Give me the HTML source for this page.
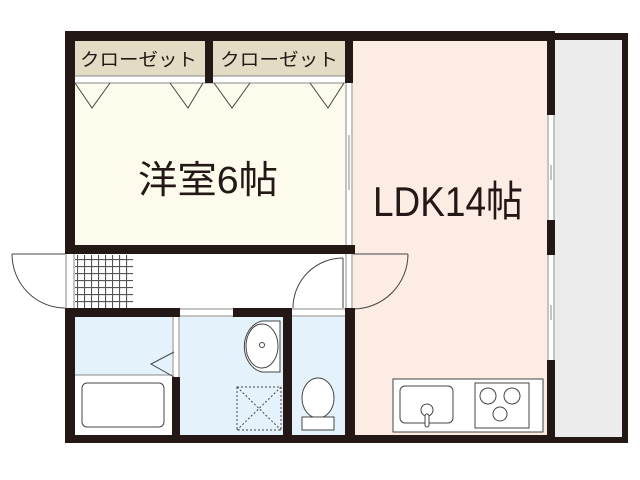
<!DOCTYPE html>
<html><head><meta charset="utf-8"><style>
html,body{margin:0;padding:0;background:#fff;}
svg{display:block;}
text{font-family:"Liberation Sans","Noto Sans CJK JP",sans-serif;fill:#231815;}
</style></head><body>
<svg width="640" height="480" viewBox="0 0 640 480" xmlns="http://www.w3.org/2000/svg">
<defs>
<pattern id="grid" width="7" height="7" patternUnits="userSpaceOnUse">
<rect width="7" height="7" fill="#fff"/>
<path d="M0 0.5H7M0.5 0V7" stroke="#555" stroke-width="1.2"/>
</pattern>
</defs>
<rect x="555" y="33" width="73" height="410" fill="#231815"/>
<rect x="555" y="40" width="67" height="397" fill="#ececec"/>
<rect x="65" y="31" width="490" height="10" fill="#231815"/>
<rect x="65" y="31" width="10" height="223" fill="#231815"/>
<rect x="65" y="308" width="10" height="135" fill="#231815"/>
<rect x="65" y="435" width="490" height="8" fill="#231815"/>
<rect x="547" y="31" width="8" height="412" fill="#231815"/>
<rect x="75" y="41" width="270" height="206" fill="#fdfbec"/>
<rect x="75" y="41" width="130" height="35" fill="#e3dcc4"/>
<rect x="213" y="41" width="132" height="35" fill="#e3dcc4"/>
<rect x="75" y="76" width="270" height="7" fill="#fff"/>
<line x1="75" y1="83" x2="345" y2="83" stroke="#888" stroke-width="1"/>
<line x1="75" y1="76" x2="345" y2="76" stroke="#888" stroke-width="1"/>
<rect x="353" y="41" width="194" height="394" fill="#fdece3"/>
<rect x="205" y="31" width="8" height="52" fill="#231815"/>
<rect x="345" y="31" width="8" height="52" fill="#231815"/>
<rect x="345" y="83" width="8" height="164" fill="#fff"/>
<path d="M346 83V247M352 83V247M349 135V190" stroke="#888" stroke-width="1"/>
<rect x="65" y="245" width="290" height="9" fill="#231815"/>
<g fill="none" stroke="#444" stroke-width="1">
<path d="M75 83L92 108L110 83M170 83L188 108L203 83M214 83L232 108L250 83M310 83L328 108L344 83"/>
</g>
<rect x="75" y="254" width="270" height="54" fill="#fff"/>
<rect x="65" y="254" width="10" height="54" fill="#fff"/>
<path d="M66 254V308M74 254V308" stroke="#888"/>
<rect x="75" y="255" width="58" height="53" fill="url(#grid)"/>
<path d="M12 254H65M12 254A53 54 0 0 0 65 308" fill="none" stroke="#444"/>
<rect x="345" y="254" width="8" height="54" fill="#fff"/>
<path d="M346 254V308M352 254V308" stroke="#888"/>
<path d="M343 258V308M343 258A50 50 0 0 0 293 308" fill="none" stroke="#444"/>
<path d="M353 254H408M408 254A55 55 0 0 1 353 309" fill="none" stroke="#444"/>
<rect x="65" y="308" width="115" height="9" fill="#231815"/>
<rect x="233" y="308" width="59" height="9" fill="#231815"/>
<rect x="345" y="308" width="10" height="135" fill="#231815"/>
<rect x="180" y="308" width="53" height="9" fill="#fff"/>
<rect x="292" y="308" width="53" height="9" fill="#fff"/>
<path d="M180 309H233M180 316H233M292 309H345M292 316H345" stroke="#888"/>
<rect x="75" y="317" width="97" height="118" fill="#fff"/>
<rect x="75" y="317" width="97" height="58" fill="#e4f3fb"/>
<line x1="75" y1="375" x2="172" y2="375" stroke="#888"/>
<rect x="82" y="383" width="82" height="44" rx="5" fill="#fff" stroke="#444"/>
<rect x="172" y="377" width="8" height="58" fill="#231815"/>
<path d="M173 317V377M179 317V377" stroke="#888"/>
<path d="M174 352L151 364L174 377" fill="none" stroke="#444"/>
<rect x="180" y="317" width="103" height="118" fill="#e4f3fb"/>
<rect x="283" y="308" width="9" height="135" fill="#231815"/>
<path d="M280 321H262A22 26 0 0 0 262 372H280Z" fill="#fff" stroke="#444"/>
<ellipse cx="262" cy="346" rx="16" ry="22" fill="#fff" stroke="#444"/>
<circle cx="262" cy="345" r="2.5" fill="none" stroke="#444"/>
<rect x="237" y="387" width="44" height="43" fill="none" stroke="#444" stroke-dasharray="2 2"/>
<path d="M237 387L281 430M281 387L237 430" stroke="#444" stroke-dasharray="2 2"/>
<rect x="292" y="317" width="53" height="118" fill="#e4f3fb"/>
<ellipse cx="318" cy="398" rx="16" ry="20" fill="#fff" stroke="#444"/>
<rect x="302" y="417" width="32" height="13" fill="#fff" stroke="#444"/>
<rect x="547" y="115" width="8" height="105" fill="#fff"/>
<rect x="547" y="255" width="8" height="105" fill="#fff"/>
<path d="M548 115V220M554 115V220M551 165V180M548 255V360M554 255V360M551 305V320" stroke="#888"/>
<rect x="393" y="379" width="150" height="53" fill="#fff" stroke="#444"/>
<rect x="400" y="386" width="53" height="37" rx="5" fill="none" stroke="#444"/>
<circle cx="427" cy="410" r="6" fill="#fff" stroke="#444"/>
<rect x="425" y="414" width="4" height="13" rx="2" fill="#fff" stroke="#444"/>
<rect x="475" y="383" width="54" height="45" fill="none" stroke="#444"/>
<circle cx="488" cy="396" r="8" fill="none" stroke="#444"/>
<circle cx="512" cy="396" r="8" fill="none" stroke="#444"/>
<circle cx="500" cy="414" r="7" fill="none" stroke="#444"/>
<text x="80" y="66" font-size="18" textLength="117" lengthAdjust="spacingAndGlyphs">クローゼット</text>
<text x="220" y="66" font-size="18" textLength="118" lengthAdjust="spacingAndGlyphs">クローゼット</text>
<text x="138" y="193" font-size="38" textLength="140" lengthAdjust="spacingAndGlyphs">洋室6帖</text>
<text x="373" y="216" font-size="42" textLength="150" lengthAdjust="spacingAndGlyphs">LDK14帖</text>
</svg>
</body></html>
